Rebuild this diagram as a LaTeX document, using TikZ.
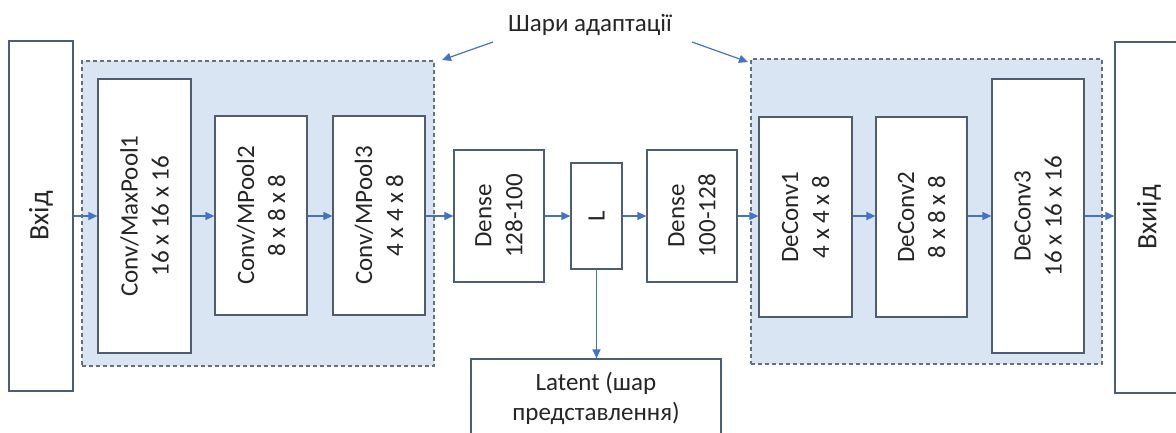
\documentclass[tikz,border=0pt]{standalone}
\usepackage{fontspec}
\setmainfont{Carlito}
\usetikzlibrary{arrows.meta}
\definecolor{boxline}{HTML}{4F5D70}
\definecolor{arrowblue}{HTML}{4472C4}
\definecolor{regionfill}{HTML}{DAE5F3}
\definecolor{regionline}{HTML}{66707C}
\definecolor{txt}{HTML}{262626}
\tikzset{
  box/.style={draw=boxline, line width=1.2pt, fill=white, inner sep=0pt},
  region/.style={draw=regionline, line width=1.1pt, dash pattern=on 4pt off 3pt, fill=regionfill, inner sep=0pt},
  lbl/.style={rotate=90, align=center, text=txt, font=\fontsize{25}{31}\selectfont, inner sep=0pt},
  flow/.style={draw=arrowblue, line width=1.2pt, -{Triangle[length=9pt,width=8pt]}},
}
\begin{document}
\begin{tikzpicture}[x=1pt,y=-1pt]
\useasboundingbox (0,0) rectangle (1176,432);
% adaptation regions
\node[region, minimum width=352pt, minimum height=305pt] (encreg) at (258,213.5) {};
\node[region, minimum width=351pt, minimum height=305pt] (decreg) at (926.5,211.5) {};
% boxes
\node[box, minimum width=64pt, minimum height=350pt] (in) at (41,216) {};
\node[lbl, font=\fontsize{28}{34}\selectfont] at (in) {Вхід};
\node[box, minimum width=93pt, minimum height=274pt] (c1) at (144.5,216) {};
\node[lbl] at (c1) {Conv/MaxPool1\\16 x 16 x 16};
\node[box, minimum width=92pt, minimum height=199pt] (c2) at (261,215.5) {};
\node[lbl] at (c2) {Conv/MPool2\\8 x 8 x 8};
\node[box, minimum width=92pt, minimum height=199pt] (c3) at (379,215.5) {};
\node[lbl] at (c3) {Conv/MPool3\\4 x 4 x 8};
\node[box, minimum width=90pt, minimum height=132pt] (d1) at (499,216) {};
\node[lbl] at (d1) {Dense\\128-100};
\node[box, minimum width=51pt, minimum height=106pt] (L) at (596.5,216) {};
\node[lbl] at (L) {L};
\node[box, minimum width=90pt, minimum height=132pt] (d2) at (692,216) {};
\node[lbl] at (d2) {Dense\\100-128};
\node[box, minimum width=93pt, minimum height=200pt] (dc1) at (805.5,217) {};
\node[lbl] at (dc1) {DeConv1\\4 x 4 x 8};
\node[box, minimum width=91pt, minimum height=200pt] (dc2) at (921.5,217) {};
\node[lbl] at (dc2) {DeConv2\\8 x 8 x 8};
\node[box, minimum width=92pt, minimum height=274pt] (dc3) at (1038,216) {};
\node[lbl] at (dc3) {DeConv3\\16 x 16 x 16};
\node[box, minimum width=68pt, minimum height=351pt] (out) at (1149,217.5) {};
\node[lbl, font=\fontsize{28}{34}\selectfont] at (out) {Вхиід};
\node[box, minimum width=250pt, minimum height=78pt, align=center, text=txt, font=\fontsize{25}{30}\selectfont] (lat) at (596,398) {Latent (шар\\представлення)};
% title
\node[text=txt, font=\fontsize{25}{30}\selectfont, inner sep=0pt] (title) at (590,25) {Шари адаптації};
\coordinate (tl) at (493,42);
\coordinate (tr) at (692,42);
\coordinate (encc) at (442,60);
\coordinate (decc) at (748,62);
% connectors
\draw[flow] (in.east |- 0,216) -- (c1.west |- 0,216);
\draw[flow] (c1.east |- 0,216) -- (c2.west |- 0,216);
\draw[flow] (c2.east |- 0,216) -- (c3.west |- 0,216);
\draw[flow] (c3.east |- 0,216) -- (d1.west |- 0,216);
\draw[flow] (d1.east |- 0,216) -- (L.west |- 0,216);
\draw[flow] (L.east |- 0,216) -- (d2.west |- 0,216);
\draw[flow] (d2.east |- 0,216) -- (dc1.west |- 0,216);
\draw[flow] (dc1.east |- 0,216) -- (dc2.west |- 0,216);
\draw[flow] (dc2.east |- 0,216) -- (dc3.west |- 0,216);
\draw[flow] (dc3.east |- 0,216) -- (out.west |- 0,216);
\draw[flow] (L.south) -- (lat.north -| L.south);
\draw[flow] (tl) -- (encc);
\draw[flow] (tr) -- (decc);
\end{tikzpicture}
\end{document}
